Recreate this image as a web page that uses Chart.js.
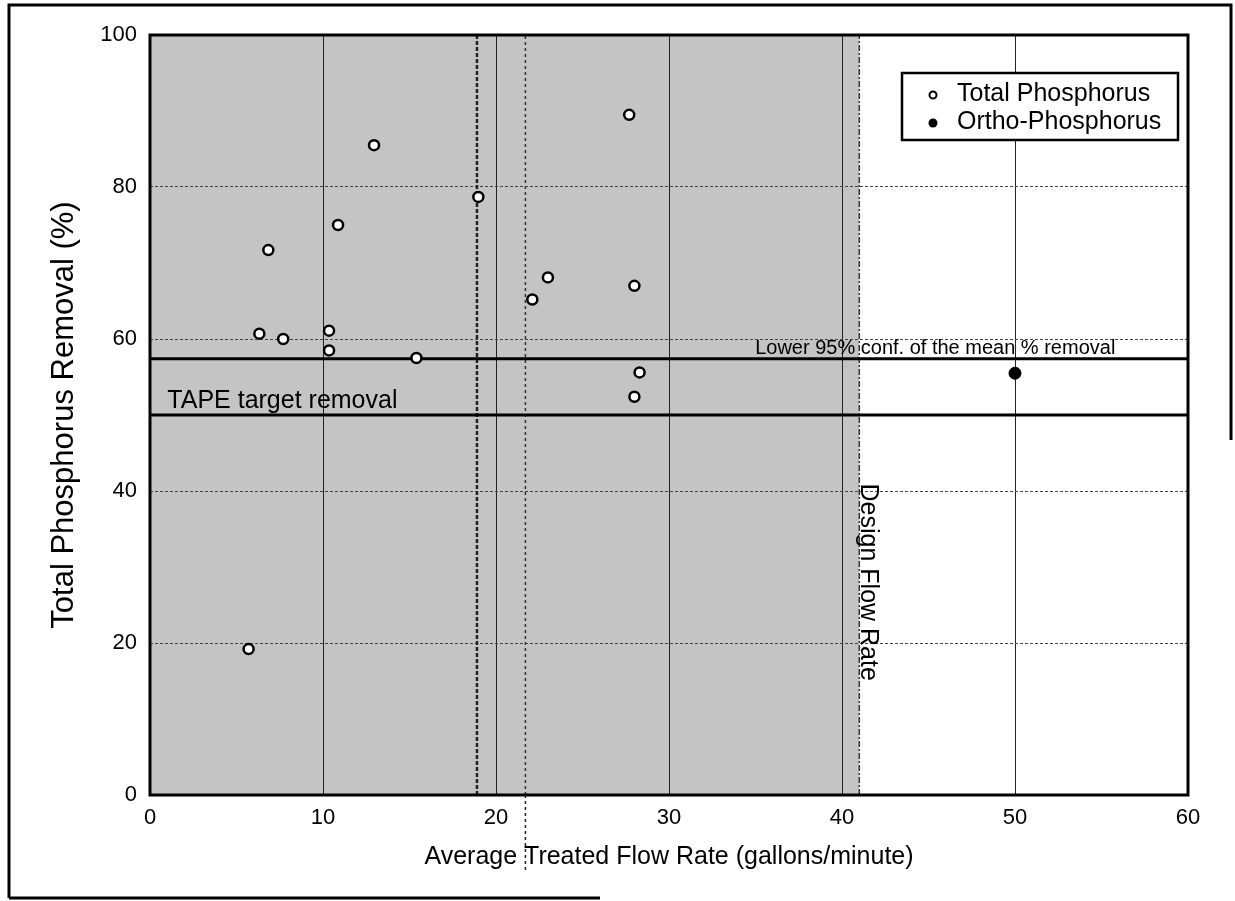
<!DOCTYPE html>
<html><head><meta charset="utf-8">
<script src="https://cdn.jsdelivr.net/npm/chart.js@4.4.0/dist/chart.umd.min.js"></script>
<style>html,body{margin:0;padding:0;background:#fff;}#wrap{width:1235px;height:901px;position:relative;}</style>
</head><body><div id="wrap"><canvas id="c" width="1235" height="901"></canvas></div>
<script>
// ---- data ----
const totalPX = [27.7, 12.95, 18.98, 10.87, 6.84, 23.0, 28.0, 22.1, 6.32, 7.7, 10.35, 10.35, 15.4, 28.3, 28.0, 5.7];
const totalPY = [89.5, 85.5, 78.7, 75.0, 71.7, 68.1, 67.0, 65.2, 60.7, 60.0, 61.1, 58.5, 57.5, 55.6, 52.4, 19.2];
const orthoX = [50.0];
const orthoY = [55.5];
const xTicks = [0, 10, 20, 30, 40, 50, 60];
const yTicks = [0, 20, 40, 60, 80, 100];
const lowerConf = 57.4;
const tapeTarget = 50;
const designFlow = 41;
const refLineA = 18.9;
const refLineB = 21.7;
const seriesNames = ['Total Phosphorus', 'Ortho-Phosphorus'];

const FONT = "'Liberation Sans', Arial, sans-serif";

const decor = {
  id: 'decor',
  beforeDraw(chart) {
    const {ctx, chartArea: a, scales: {x, y}} = chart;
    ctx.save();
    ctx.fillStyle = '#fff';
    ctx.fillRect(0, 0, chart.width, chart.height);
    // shaded region below design flow
    ctx.fillStyle = '#c4c4c4';
    const xr = x.getPixelForValue(designFlow);
    ctx.fillRect(a.left, a.top, xr - a.left, a.bottom - a.top);
    ctx.restore();
  },
  afterDatasetsDraw(chart) {
    const {ctx, chartArea: a, scales: {x, y}} = chart;
    ctx.save();
    // plot border
    ctx.strokeStyle = '#000';
    ctx.lineWidth = 3;
    ctx.strokeRect(a.left, a.top, a.right - a.left, a.bottom - a.top);
    // extension of dotted reference line below axis
    ctx.lineWidth = 1.5;
    ctx.setLineDash([3, 3]);
    ctx.strokeStyle = '#222';
    const xb = x.getPixelForValue(refLineB);
    ctx.beginPath(); ctx.moveTo(xb, a.bottom); ctx.lineTo(xb, a.bottom + 78); ctx.stroke();
    ctx.setLineDash([]);
    // annotations
    ctx.fillStyle = '#000';
    ctx.font = '25px ' + FONT;
    ctx.textAlign = 'left'; ctx.textBaseline = 'alphabetic';
    ctx.fillText('TAPE target removal', x.getPixelForValue(1.0), y.getPixelForValue(tapeTarget) - 7);
    ctx.font = '20px ' + FONT;
    ctx.textAlign = 'right';
    ctx.fillText('Lower 95% conf. of the mean % removal', x.getPixelForValue(55.8), y.getPixelForValue(lowerConf) - 5);
    // Design Flow Rate (rotated)
    ctx.save();
    ctx.translate(x.getPixelForValue(designFlow) + 9, y.getPixelForValue(28));
    ctx.rotate(Math.PI / 2);
    ctx.font = '25px ' + FONT;
    ctx.textAlign = 'center'; ctx.textBaseline = 'middle';
    ctx.fillText('Design Flow Rate', 0, 0);
    ctx.restore();
    // legend
    const lx = 902, ly = 73, lw = 276, lh = 67;
    ctx.fillStyle = '#fff';
    ctx.fillRect(lx, ly, lw, lh);
    ctx.lineWidth = 2.5; ctx.strokeStyle = '#000';
    ctx.strokeRect(lx, ly, lw, lh);
    ctx.font = '25px ' + FONT;
    ctx.textAlign = 'left'; ctx.textBaseline = 'middle';
    ctx.fillStyle = '#000';
    ctx.fillText(seriesNames[0], 957, 94);
    ctx.fillText(seriesNames[1], 957, 122);
    ctx.lineWidth = 2;
    ctx.beginPath(); ctx.arc(933, 95, 3.5, 0, Math.PI * 2); ctx.stroke();
    ctx.beginPath(); ctx.arc(933, 123, 4.5, 0, Math.PI * 2); ctx.fill();
    // page frame
    ctx.lineWidth = 3; ctx.strokeStyle = '#000';
    ctx.beginPath();
    ctx.moveTo(9, 898); ctx.lineTo(9, 5); ctx.lineTo(1231, 5); ctx.lineTo(1231, 440);
    ctx.moveTo(9, 898); ctx.lineTo(600, 898);
    ctx.stroke();
    ctx.restore();
  }
};

const tpData = totalPX.map((v, i) => ({x: v, y: totalPY[i]}));
const opData = orthoX.map((v, i) => ({x: v, y: orthoY[i]}));
const hLine = v => [{x: 0, y: v}, {x: 60, y: v}];
const vLine = v => [{x: v, y: 0}, {x: v, y: 100}];

new Chart(document.getElementById('c'), {
  type: 'scatter',
  data: {
    datasets: [
      {label: 'lower', type: 'line', data: hLine(lowerConf), borderColor: '#000', borderWidth: 3, pointRadius: 0, order: 5},
      {label: 'tape', type: 'line', data: hLine(tapeTarget), borderColor: '#000', borderWidth: 3, pointRadius: 0, order: 5},
      {label: 'refA', type: 'line', data: vLine(refLineA), borderColor: '#222', borderWidth: 2.5, borderDash: [4, 2], pointRadius: 0, order: 6},
      {label: 'refB', type: 'line', data: vLine(refLineB), borderColor: '#333', borderWidth: 1.5, borderDash: [3, 3], pointRadius: 0, order: 6},
      {label: 'design', type: 'line', data: vLine(designFlow), borderColor: '#333', borderWidth: 1.5, borderDash: [6, 2, 2, 2], pointRadius: 0, order: 6},
      {label: seriesNames[0], data: tpData, pointStyle: 'circle', pointRadius: 5, pointBorderWidth: 2.5, borderColor: '#000', backgroundColor: '#fff', order: 1},
      {label: seriesNames[1], data: opData, pointStyle: 'circle', pointRadius: 6, pointBorderWidth: 1, borderColor: '#000', backgroundColor: '#000', order: 1}
    ]
  },
  options: {
    responsive: false,
    animation: false,
    events: [],
    layout: {padding: {left: 42, top: 35, right: 47, bottom: 25}},
    plugins: {legend: {display: false}, tooltip: {enabled: false}},
    scales: {
      x: {
        type: 'linear', min: 0, max: 60,
        afterFit: s => { s.height = 81; },
        afterBuildTicks: s => { s.ticks = xTicks.map(v => ({value: v})); },
        grid: {color: '#222', lineWidth: 1, drawTicks: false},
        border: {display: false},
        ticks: {padding: 10, color: '#000', font: {family: FONT, size: 22}},
        title: {display: true, text: 'Average Treated Flow Rate (gallons/minute)', color: '#000', font: {family: FONT, size: 25}, padding: 4}
      },
      y: {
        type: 'linear', min: 0, max: 100,
        afterFit: s => { s.width = 108; },
        afterBuildTicks: s => { s.ticks = yTicks.map(v => ({value: v})); },
        grid: {color: '#444', lineWidth: 1, drawTicks: false},
        border: {display: false, dash: [3, 2]},
        ticks: {padding: 13, color: '#000', font: {family: FONT, size: 22}},
        title: {display: true, text: 'Total Phosphorus Removal (%)', color: '#000', font: {family: FONT, size: 31}, padding: 4}
      }
    }
  },
  plugins: [decor]
});
</script>
</body></html>
